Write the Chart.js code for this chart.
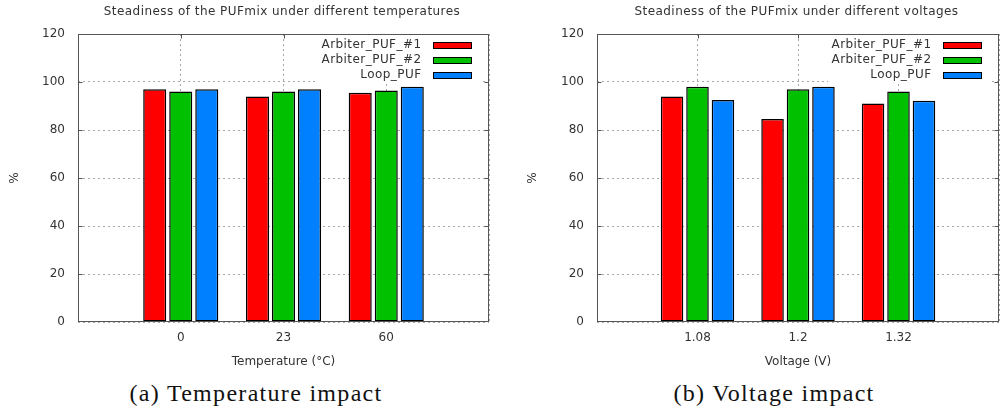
<!DOCTYPE html>
<html>
<head>
<meta charset="utf-8">
<script src="https://cdn.jsdelivr.net/npm/chart.js@4/dist/chart.umd.min.js"></script>
<style>
  html, body { margin: 0; padding: 0; background: #fff; overflow: hidden; width: 1003px; height: 410px; }
  #wrap { position: relative; width: 1003px; height: 410px; overflow: hidden; }
  canvas { position: absolute; top: 0; }
  #ca { left: 0; }
  #cb { left: 500px; }
  .cap { position: absolute; top: 381px; font-family: "Liberation Serif", serif; font-size: 24px; line-height: 24px;
         letter-spacing: 1.3px; color: #111; white-space: nowrap; transform: translateX(-50%); }
</style>
</head>
<body>
<div id="wrap">
  <canvas id="ca" width="500" height="375"></canvas>
  <canvas id="cb" width="508" height="375"></canvas>
  <div class="cap" style="left:256px">(a) Temperature impact</div>
  <div class="cap" style="left:774px">(b) Voltage impact</div>
</div>
<script>
// Series shared by both panels
const seriesNames  = ['Arbiter_PUF_#1', 'Arbiter_PUF_#2', 'Loop_PUF'];
const seriesColors = ['#ff0000', '#00c000', '#0080ff'];
const yTicks = [0, 20, 40, 60, 80, 100, 120];

// Panel (a): temperature sweep, steadiness in %
const tempLabels   = ['0', '23', '60'];
const tempArbiter1 = [97, 94, 95.5];
const tempArbiter2 = [96, 96, 96.5];
const tempLoop     = [97, 97, 98];

// Panel (b): supply-voltage sweep, steadiness in %
const voltLabels   = ['1.08', '1.2', '1.32'];
const voltArbiter1 = [94, 84.6, 91];
const voltArbiter2 = [98, 97, 96];
const voltLoop     = [92.5, 98, 92.2];

Chart.defaults.font.family = '"DejaVu Sans", sans-serif';
Chart.defaults.font.size = 12;
Chart.defaults.color = '#333';

const FRAME = '#555';

// Plot title centred over the plot area
const plotTitle = {
  id: 'plotTitle',
  afterDraw(chart, args, opts) {
    const { ctx, chartArea: ca } = chart;
    ctx.save();
    ctx.font = '12px "DejaVu Sans", sans-serif';
    ctx.letterSpacing = '0.45px';
    ctx.fillStyle = '#333';
    ctx.textAlign = 'center';
    ctx.textBaseline = 'middle';
    ctx.fillText(opts.text, (ca.left + ca.right) / 2 - 1.5, 12);
    ctx.restore();
  }
};

// Box around the plot plus inward tick marks (left/right mirrored, top for categories)
const frameBox = {
  id: 'frameBox',
  afterDatasetsDraw(chart) {
    const { ctx, chartArea: ca, scales } = chart;
    const L = Math.round(ca.left) + 0.5, R = Math.round(ca.right) - 0.5;
    const T = Math.round(ca.top) + 0.5, B = Math.round(ca.bottom) - 0.5;
    ctx.save();
    ctx.strokeStyle = FRAME;
    ctx.lineWidth = 1;
    ctx.beginPath();
    yTicks.forEach(v => {
      if (v === yTicks[0] || v === yTicks[yTicks.length - 1]) return;
      const y = Math.round(scales.y.getPixelForValue(v)) + 0.5;
      ctx.moveTo(L, y); ctx.lineTo(L + 4, y);
      ctx.moveTo(R, y); ctx.lineTo(R - 4, y);
    });
    chart.data.datasets[0].data.forEach(p => {
      const x = Math.round(scales.x.getPixelForValue(p.x)) + 0.5;
      ctx.moveTo(x, T); ctx.lineTo(x, T + 4);
    });
    ctx.stroke();
    ctx.strokeRect(L, T, R - L, B - T);
    ctx.restore();
  }
};

// Opaque key in the top-right corner: label, then a filled swatch
const keyBox = {
  id: 'keyBox',
  afterDatasetsDraw(chart) {
    const { ctx, chartArea: ca } = chart;
    const ds = chart.data.datasets;
    ctx.save();
    ctx.font = '12px "DejaVu Sans", sans-serif';
    ctx.letterSpacing = '0.45px';
    const textRight = ca.right - 68;
    const widest = Math.max(...ds.map(d => ctx.measureText(d.label).width));
    ctx.fillStyle = '#fff';
    ctx.fillRect(textRight - widest - 3, ca.top + 1, ca.right - 8 - (textRight - widest - 3), 49);
    ctx.textAlign = 'right';
    ctx.textBaseline = 'middle';
    ds.forEach((d, i) => {
      const yc = ca.top + 11 + 15 * i;
      ctx.fillStyle = '#333';
      ctx.fillText(d.label, textRight + 0.5, yc);
      ctx.fillStyle = d.backgroundColor;
      ctx.fillRect(ca.right - 56, Math.round(yc - 3.5), 39, 7);
      ctx.strokeStyle = '#000';
      ctx.lineWidth = 1;
      ctx.strokeRect(ca.right - 56 + 0.5, Math.round(yc - 3.5) + 0.5, 38, 6);
    });
    ctx.restore();
  }
};

function makePanel(canvasId, titleText, xTitle, cats, series, yAxisWidth, yTitlePad, rightPad) {
  const datasets = series.map((vals, s) => ({
    label: seriesNames[s],
    data: cats.map((c, i) => ({ x: i, y: vals[i] })),
    backgroundColor: seriesColors[s],
    borderColor: '#000',
    borderWidth: 1.5,
    borderSkipped: false,
    inflateAmount: 0,
    categoryPercentage: 0.76,
    barPercentage: 0.885
  }));
  return new Chart(document.getElementById(canvasId), {
    type: 'bar',
    data: { datasets },
    plugins: [plotTitle, frameBox, keyBox],
    options: {
      responsive: false,
      animation: false,
      layout: { padding: { top: 34, left: 0, right: rightPad, bottom: 0 } },
      plugins: {
        legend: { display: false },
        tooltip: { enabled: false },
        plotTitle: { text: titleText }
      },
      scales: {
        x: {
          type: 'linear',
          offset: false,
          min: -1,
          max: cats.length,
          grid: { offset: false, color: '#a8a8a8', lineWidth: 1, drawTicks: false },
          border: { display: false, dash: [2, 3] },
          ticks: {
            stepSize: 1,
            padding: 9,
            color: '#333',
            callback: v => (cats[v] !== undefined ? cats[v] : '')
          },
          title: { display: true, text: xTitle, color: '#333', font: { size: 12 }, padding: { top: 0, bottom: 6 } },
          afterFit: sc => { sc.height = 53; }
        },
        y: {
          min: yTicks[0],
          max: yTicks[yTicks.length - 1],
          grid: { color: '#a8a8a8', lineWidth: 1, drawTicks: false },
          border: { display: false, dash: [2, 3] },
          ticks: { padding: 13, color: '#333' },
          afterBuildTicks: sc => { sc.ticks = yTicks.map(v => ({ value: v })); },
          title: { display: true, text: '%', color: '#333', font: { size: 12 }, padding: { top: yTitlePad } },
          afterFit: sc => { sc.width = yAxisWidth; }
        }
      }
    }
  });
}

makePanel('ca', 'Steadiness of the PUFmix under different temperatures', 'Temperature (°C)',
  tempLabels, [tempArbiter1, tempArbiter2, tempLoop], 78, 8, 11);
makePanel('cb', 'Steadiness of the PUFmix under different voltages', 'Voltage (V)',
  voltLabels, [voltArbiter1, voltArbiter2, voltLoop], 97, 26, 0);
</script>
</body>
</html>
